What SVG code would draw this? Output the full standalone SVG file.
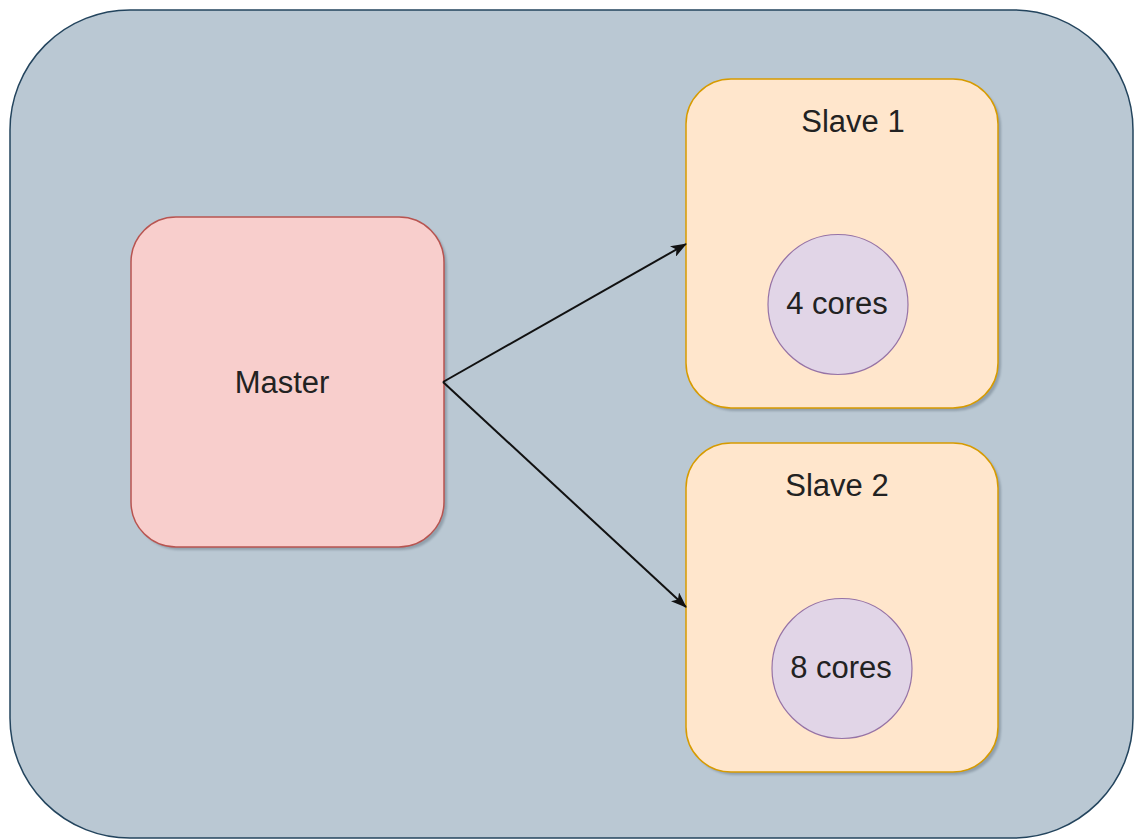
<svg xmlns="http://www.w3.org/2000/svg" width="1136" height="840" viewBox="0 0 1136 840">
  <defs>
    <style>
      .label { font-family: "Liberation Sans", Arial, sans-serif; font-size: 31px; fill: #222222; text-anchor: middle; }
      .master { fill: #f8cecc; stroke: #b85450; stroke-width: 1.5; }
      .slave { fill: #ffe6cc; stroke: #d79b00; stroke-width: 1.5; }
      .core { fill: #e1d5e7; stroke: #9673a6; stroke-width: 1.2; }
      .shadow { fill: #6f7f8c; opacity: 0.55; filter: url(#soft); }
      .edge { fill: none; stroke: #111111; stroke-width: 2; }
    </style>
    <filter id="soft" x="-5%" y="-5%" width="110%" height="110%">
      <feGaussianBlur stdDeviation="1.2"/>
    </filter>
    <marker id="arrow" viewBox="0 0 16 12" refX="15" refY="6" markerWidth="16" markerHeight="12" markerUnits="userSpaceOnUse" orient="auto">
      <path d="M0,0 L16,6 L0,12 L4,6 Z" fill="#111111"/>
    </marker>
  </defs>

  <!-- cluster background -->
  <g id="cluster">
    <rect x="10" y="10" width="1123" height="828" rx="120" ry="120" fill="#bac8d3" stroke="#23445d" stroke-width="1.5"/>
  </g>

  <!-- master node -->
  <g id="master">
    <rect class="shadow" x="134" y="220" width="313" height="330" rx="45" ry="45"/>
    <rect class="master" x="131" y="217" width="313" height="330" rx="45" ry="45"/>
    <text class="label" x="282" y="393">Master</text>
  </g>

  <!-- slave 1 -->
  <g id="slave1">
    <rect class="shadow" x="689" y="82" width="312" height="329" rx="45" ry="45"/>
    <rect class="slave" x="686" y="79" width="312" height="329" rx="45" ry="45"/>
    <text class="label" x="853" y="132">Slave 1</text>
  </g>
  <g id="cores1">
    <circle class="core" cx="838" cy="304.5" r="70"/>
    <text class="label" x="837" y="314">4 cores</text>
  </g>

  <!-- slave 2 -->
  <g id="slave2">
    <rect class="shadow" x="689" y="446" width="312" height="329" rx="45" ry="45"/>
    <rect class="slave" x="686" y="443" width="312" height="329" rx="45" ry="45"/>
    <text class="label" x="837" y="496">Slave 2</text>
  </g>
  <g id="cores2">
    <circle class="core" cx="842" cy="668.5" r="70"/>
    <text class="label" x="841" y="678">8 cores</text>
  </g>

  <!-- connectors -->
  <g id="connectors">
    <line class="edge" x1="443" y1="382" x2="686" y2="244" marker-end="url(#arrow)"/>
    <line class="edge" x1="443" y1="382" x2="686" y2="607" marker-end="url(#arrow)"/>
  </g>
</svg>
